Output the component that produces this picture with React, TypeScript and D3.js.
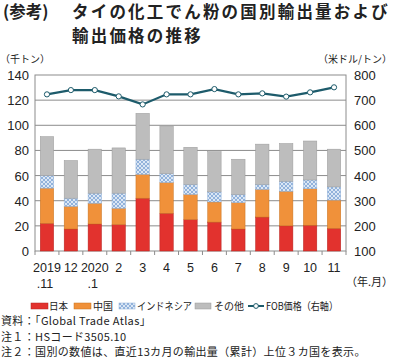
import * as React from 'react';
import * as d3 from 'd3';

const months = ['2019\n.11', '12', '2020\n.1', '2', '3', '4', '5', '6', '7', '8', '9', '10', '11'];
const japan = [22, 17.5, 21.5, 21, 42, 30, 25, 23, 17.5, 27, 20, 20.5, 18];
const china = [28, 18, 16.5, 13, 19, 24.5, 20, 16, 21, 22, 27.5, 29, 22.5];
const indonesia = [10, 6.5, 8, 12, 12, 7, 8, 8, 6.5, 4, 8, 7, 10.5];
const others = [31, 30, 35, 36, 36.5, 38, 29.5, 32, 28, 32, 30, 31, 30];
const fobPrice = [723, 740, 740, 715, 683, 723, 723, 744, 723, 727, 714, 731, 751];
const leftTicks = [0, 20, 40, 60, 80, 100, 120, 140];
const rightTicks = [100, 200, 300, 400, 500, 600, 700, 800];

const seriesKeys = ['japan', 'china', 'indonesia', 'others'];
const seriesNames = ['日本', '中国', 'インドネシア', 'その他'];
const colors = ['#e2322e', '#f0913a', 'url(#indo)', '#bdbdbd'];
const strokes = ['#b52420', '#c8731f', '#8fb0d8', '#9a9a9a'];

const jp = '"Noto Sans CJK JP", sans-serif';
const num = '"Liberation Sans", Arial, sans-serif';

export default function App() {
  const ref = React.useRef<SVGSVGElement>(null);

  React.useEffect(() => {
    const svg = d3.select(ref.current);
    svg.selectAll('*').remove();

    const left = 35;
    const right = 346;
    const top = 75;
    const bottom = 251;

    const rows = months.map((m, i) => ({
      month: m,
      japan: japan[i],
      china: china[i],
      indonesia: indonesia[i],
      others: others[i]
    }));

    const x = d3.scaleBand<string>().domain(months).range([left, right]).paddingInner(0.44).paddingOuter(0.22);
    const y = d3.scaleLinear().domain([0, 140]).range([bottom, top]);
    const y2 = d3.scaleLinear().domain([100, 800]).range([bottom, top]);

    const defs = svg.append('defs');
    const pat = defs
      .append('pattern')
      .attr('id', 'indo')
      .attr('patternUnits', 'userSpaceOnUse')
      .attr('width', 4)
      .attr('height', 4);
    pat.append('rect').attr('width', 4).attr('height', 4).attr('fill', '#dbe7f5');
    pat.append('path').attr('d', 'M0,0L4,4M4,0L0,4').attr('stroke', '#7fa4d4').attr('stroke-width', 0.8);

    // title
    svg.append('text').attr('x', 3).attr('y', 18).attr('font-family', jp).attr('font-weight', 'bold')
      .attr('font-size', 16.5).attr('fill', '#222').text('(参考)');
    svg.append('text').attr('x', 72).attr('y', 18).attr('font-family', jp).attr('font-weight', 'bold')
      .attr('font-size', 16.5).attr('letter-spacing', 2.2).attr('fill', '#222').text('タイの化工でん粉の国別輸出量および');
    svg.append('text').attr('x', 72).attr('y', 42).attr('font-family', jp).attr('font-weight', 'bold')
      .attr('font-size', 16.5).attr('letter-spacing', 2.2).attr('fill', '#222').text('輸出価格の推移');

    svg.append('text').attr('x', 0).attr('y', 63).attr('font-family', jp).attr('font-size', 10)
      .attr('fill', '#222').text('（千トン）');
    svg.append('text').attr('x', 392).attr('y', 63).attr('text-anchor', 'end').attr('font-family', jp)
      .attr('font-size', 10).attr('fill', '#222').text('（米ドル/トン）');

    // grid
    svg.append('g').selectAll('line').data(leftTicks.slice(1, -1)).join('line')
      .attr('x1', left).attr('x2', right).attr('y1', d => y(d)).attr('y2', d => y(d))
      .attr('stroke', '#8c8c8c').attr('stroke-width', 1);
    svg.append('rect').attr('x', left).attr('y', top).attr('width', right - left).attr('height', bottom - top)
      .attr('fill', 'none').attr('stroke', '#8c8c8c');

    // axis labels
    svg.append('g').selectAll('text').data(leftTicks).join('text')
      .attr('x', 29).attr('y', d => y(d) + 5).attr('text-anchor', 'end').attr('font-family', num)
      .attr('font-size', 13).attr('fill', '#222').text(d => d);
    svg.append('g').selectAll('text').data(rightTicks).join('text')
      .attr('x', 354).attr('y', d => y2(d) + 5).attr('font-family', num)
      .attr('font-size', 13).attr('fill', '#222').text(d => d);

    // stacked bars
    const stack = d3.stack<any>().keys(seriesKeys)(rows);
    stack.forEach((layer, k) => {
      svg.append('g').selectAll('rect').data(layer).join('rect')
        .attr('x', d => x(d.data.month)!)
        .attr('width', x.bandwidth())
        .attr('y', d => y(d[1]))
        .attr('height', d => y(d[0]) - y(d[1]))
        .attr('fill', colors[k])
        .attr('stroke', strokes[k])
        .attr('stroke-width', 0.5);
    });

    // x ticks at category boundaries
    const step = x.step();
    const bounds = d3.range(months.length + 1).map(i =>
      i === 0 ? left : x(months[i - 1])! + x.bandwidth() / 2 + step / 2
    );
    svg.append('g').selectAll('line').data(bounds).join('line')
      .attr('x1', d => d).attr('x2', d => d)
      .attr('y1', bottom).attr('y2', bottom + 4).attr('stroke', '#8c8c8c');

    // x labels
    const xl = svg.append('g').selectAll('text').data(months).join('text')
      .attr('font-family', num).attr('font-size', 12.5).attr('fill', '#222').attr('text-anchor', 'middle');
    xl.each(function (d) {
      const parts = d.split('\n');
      const cx = x(d)! + x.bandwidth() / 2;
      parts.forEach((p, j) => {
        d3.select(this).append('tspan').attr('x', cx + (j === 1 ? -2 : 0)).attr('y', 272 + j * 16).text(p);
      });
    });
    svg.append('text').attr('x', 346).attr('y', 286).attr('font-family', jp).attr('font-size', 11)
      .attr('fill', '#222').text('（年.月）');

    // FOB line
    const line = d3.line<number>()
      .x((_, i) => x(months[i])! + x.bandwidth() / 2)
      .y(d => y2(d));
    svg.append('path').datum(fobPrice).attr('d', line).attr('fill', 'none')
      .attr('stroke', '#1d5b6b').attr('stroke-width', 2.2);
    svg.append('g').selectAll('circle').data(fobPrice).join('circle')
      .attr('cx', (_, i) => x(months[i])! + x.bandwidth() / 2)
      .attr('cy', d => y2(d)).attr('r', 2.6)
      .attr('fill', '#fff').attr('stroke', '#1d5b6b').attr('stroke-width', 1);

    // legend
    const ly = 306;
    const items = [
      { x: 31, w: 17, tx: 49, tl: 19, label: seriesNames[0], k: 0 },
      { x: 74, w: 17, tx: 93, tl: 20, label: seriesNames[1], k: 1 },
      { x: 119, w: 16, tx: 137, tl: 55, label: seriesNames[2], k: 2 },
      { x: 195, w: 16, tx: 214, tl: 30, label: seriesNames[3], k: 3 }
    ];
    items.forEach(it => {
      svg.append('rect').attr('x', it.x).attr('y', ly - 3).attr('width', it.w).attr('height', 6)
        .attr('fill', colors[it.k]).attr('stroke', strokes[it.k]).attr('stroke-width', 0.5);
      svg.append('text').attr('x', it.tx).attr('y', ly + 4).attr('font-family', jp)
        .attr('font-size', 10.5).attr('textLength', it.tl).attr('lengthAdjust', 'spacingAndGlyphs')
        .attr('fill', '#222').text(it.label);
    });
    svg.append('line').attr('x1', 248).attr('x2', 264).attr('y1', ly).attr('y2', ly)
      .attr('stroke', '#1d5b6b').attr('stroke-width', 2);
    svg.append('circle').attr('cx', 256).attr('cy', ly).attr('r', 2.4).attr('fill', '#fff')
      .attr('stroke', '#1d5b6b');
    svg.append('text').attr('x', 266).attr('y', ly + 4).attr('font-family', jp)
      .attr('font-size', 10.5).attr('textLength', 72).attr('lengthAdjust', 'spacingAndGlyphs')
      .attr('fill', '#222').text('FOB価格（右軸）');

    // notes
    const notes = ['資料：「Global Trade Atlas」', '注１：HSコード3505.10', '注２：国別の数値は、直近13カ月の輸出量（累計）上位３カ国を表示。'];
    svg.append('g').selectAll('text').data(notes).join('text')
      .attr('x', 1).attr('y', (_, i) => 325 + i * 15.5).attr('font-family', jp)
      .attr('font-size', 11).attr('letter-spacing', 0.35).attr('fill', '#222').text(d => d);
  }, []);

  return (
    <svg
      ref={ref}
      width={393}
      height={360}
      style={{ position: 'absolute', left: 0, top: 0, background: '#fff' }}
    />
  );
}
